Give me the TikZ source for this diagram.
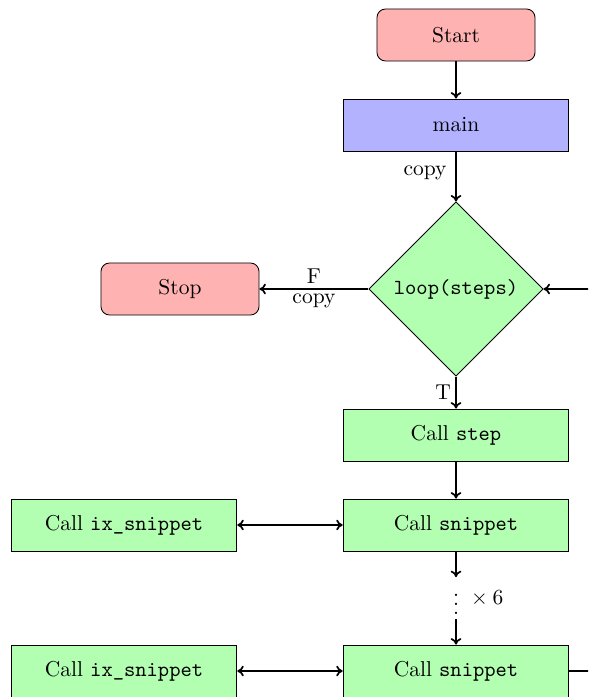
\documentclass[tikz,border=0pt]{standalone}
\usetikzlibrary{shapes.geometric,arrows.meta}
\begin{document}
\begin{tikzpicture}[
  x=0.465pt, y=-0.465pt,
  base/.style={draw, thin, minimum height=24.2pt, inner sep=2pt, font=\normalsize},
  terminal/.style={base, rounded corners=4pt, fill=red!30, minimum width=73.5pt},
  mainbox/.style={base, fill=blue!30, minimum width=105pt},
  callbox/.style={base, fill=green!30, minimum width=105pt},
  decision/.style={draw, thin, diamond, aspect=1, fill=green!30, minimum width=81pt, minimum height=81pt, inner sep=0pt},
  flow/.style={thick, -{To[length=3pt,width=5pt]}},
  twoway/.style={thick, {To[length=3pt,width=5pt]}-{To[length=3pt,width=5pt]}},
  plain/.style={thick}
]
\useasboundingbox (0,0) rectangle (588,697);
\clip (0,0) rectangle (588,697);

% nodes
\node[terminal] (start) at (456,35) {Start};
\node[mainbox] (main) at (456,125) {main};
\node[decision] (loop) at (456,289) {\texttt{loop(steps)}};
\node[terminal] (stop) at (180,289) {Stop};
\node[callbox] (step) at (456,435) {Call \texttt{step}};
\node[callbox] (snip1) at (456,525) {Call \texttt{snippet}};
\node[callbox] (ix1) at (124,525) {Call \texttt{ix\_snippet}};
\node[inner sep=2pt, label={[inner sep=0pt, xshift=1pt]right:${}\times 6$}] (dots) at (456,598) {$\vdots$};
\node[callbox] (snip2) at (456,671) {Call \texttt{snippet}};
\node[callbox] (ix2) at (124,671) {Call \texttt{ix\_snippet}};
\coordinate (back) at (590,289);
\coordinate (out) at (590,671);

% connectors
\draw[flow] (start) -- (main);
\draw[flow] (main) -- node[left, pos=0.42, inner sep=4pt] {copy} (loop);
\draw[flow] (loop.west) -- node[above, inner sep=2pt] {F} node[below, inner sep=2pt] {copy} (stop);
\draw[flow] (back) -- (loop.east);
\draw[flow] (loop.south) -- node[left, pos=0.5, inner sep=2pt] {T} (step);
\draw[flow] (step) -- (snip1);
\draw[twoway] (ix1) -- (snip1);
\draw[flow] (snip1) -- (dots);
\draw[flow] (dots) -- (snip2);
\draw[twoway] (ix2) -- (snip2);
\draw[plain] (snip2) -- (out);
\end{tikzpicture}
\end{document}
